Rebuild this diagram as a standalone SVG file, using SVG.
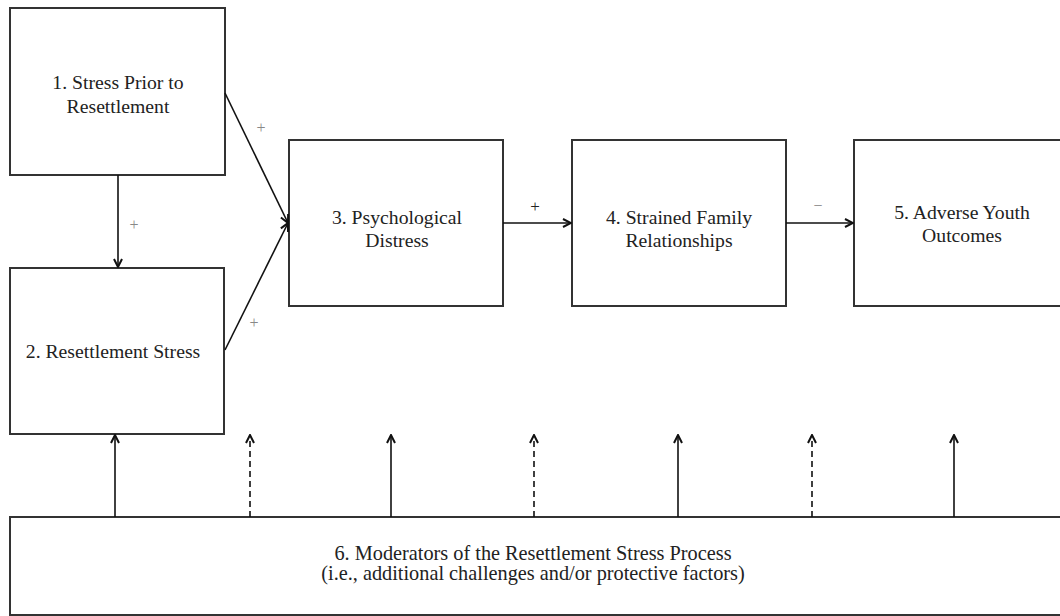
<svg xmlns="http://www.w3.org/2000/svg" width="1060" height="616" viewBox="0 0 1060 616">
  <style>
    .box { fill: #ffffff; stroke: #333333; stroke-width: 2; }
    .lbl { font-family: 'Liberation Serif', 'Times New Roman', serif; font-size: 19.7px; fill: #222222; text-anchor: middle; }
    .wide { font-size: 20.3px; }
    .sign { font-family: 'Liberation Serif', 'Times New Roman', serif; font-size: 16px; fill: #888888; text-anchor: middle; }
    .sign.dark { fill: #222222; font-size: 17px; }
    .edge { stroke: #111111; stroke-width: 1.6; fill: none; marker-end: url(#chev); }
    .dash { stroke-dasharray: 6 4; }
  </style>
  <defs>
    <!-- open chevron arrowhead -->
    <marker id="chev" viewBox="0 0 10 10" refX="9" refY="5" markerWidth="10" markerHeight="10" markerUnits="userSpaceOnUse" orient="auto">
      <path d="M1,1 L9,5 L1,9" fill="none" stroke="#111111" stroke-width="2"/>
    </marker>
  </defs>
  <rect width="1060" height="616" fill="#ffffff"/>

  <!-- nodes -->
  <g id="n1">
    <rect class="box" x="10" y="8" width="215" height="167"/>
    <text class="lbl" x="118" y="89">1. Stress Prior to</text>
    <text class="lbl" x="118" y="113">Resettlement</text>
  </g>
  <g id="n2">
    <rect class="box" x="10" y="268" width="214" height="166"/>
    <text class="lbl" x="113" y="358">2. Resettlement Stress</text>
  </g>
  <g id="n3">
    <rect class="box" x="289" y="140" width="214" height="166"/>
    <text class="lbl" x="397" y="224">3. Psychological</text>
    <text class="lbl" x="397" y="247">Distress</text>
  </g>
  <g id="n4">
    <rect class="box" x="572" y="140" width="214" height="166"/>
    <text class="lbl" x="679" y="224">4. Strained Family</text>
    <text class="lbl" x="679" y="247">Relationships</text>
  </g>
  <g id="n5">
    <rect class="box" x="854" y="140" width="214" height="166"/>
    <text class="lbl" x="962" y="219">5. Adverse Youth</text>
    <text class="lbl" x="962" y="242">Outcomes</text>
  </g>
  <g id="n6">
    <rect class="box" x="10" y="517" width="1060" height="98"/>
    <text class="lbl wide" x="533" y="560">6. Moderators of the Resettlement Stress Process</text>
    <text class="lbl wide" x="533" y="580">(i.e., additional challenges and/or protective factors)</text>
  </g>

  <!-- connectors -->
  <g id="connectors">
    <line class="edge" x1="118" y1="175" x2="118" y2="267"/>
    <line class="edge" x1="225" y1="93" x2="288" y2="223"/>
    <line class="edge" x1="225" y1="350" x2="288" y2="223"/>
    <line class="edge" x1="503" y1="223" x2="571" y2="223"/>
    <line class="edge" x1="786" y1="223" x2="853" y2="223"/>

    <line class="edge" x1="115" y1="517" x2="115" y2="435"/>
    <line class="edge dash" x1="250" y1="517" x2="250" y2="435"/>
    <line class="edge" x1="391" y1="517" x2="391" y2="435"/>
    <line class="edge dash" x1="534" y1="517" x2="534" y2="435"/>
    <line class="edge" x1="678" y1="517" x2="678" y2="435"/>
    <line class="edge dash" x1="812" y1="517" x2="812" y2="435"/>
    <line class="edge" x1="954" y1="517" x2="954" y2="435"/>

    <text class="sign" x="134" y="230">+</text>
    <text class="sign" x="261" y="133">+</text>
    <text class="sign" x="254" y="328">+</text>
    <text class="sign dark" x="535" y="212">+</text>
    <text class="sign" x="818" y="211">−</text>
  </g>
</svg>
